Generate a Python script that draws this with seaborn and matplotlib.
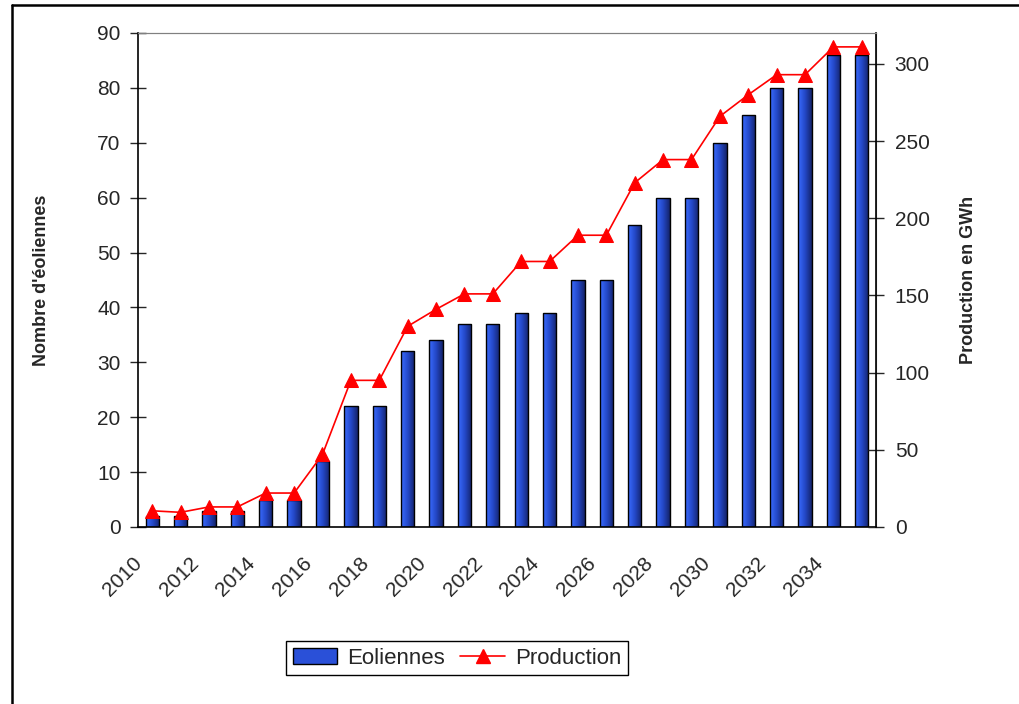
import numpy as np
import pandas as pd
import matplotlib
matplotlib.use("Agg")
import matplotlib.pyplot as plt
import matplotlib.transforms as mtransforms
from matplotlib.colors import LinearSegmentedColormap
from matplotlib.lines import Line2D
from matplotlib.patches import Patch
import seaborn as sns

# Data
years = [str(y) for y in range(2010, 2036)]
eoliennes = [2, 2, 3, 3, 5, 5, 12, 22, 22, 32, 34, 37, 37,
             39, 39, 45, 45, 55, 60, 60, 70, 75, 80, 80, 86, 86]
production = [10.5, 9.5, 13, 13, 22, 22, 47, 95, 95, 130, 141, 151, 151,
              172, 172, 189, 189, 223, 238, 238, 266, 280, 293, 293, 311, 311]

df = pd.DataFrame({"annee": years, "eoliennes": eoliennes, "production": production})

sns.set_style("white")
plt.rcParams["font.family"] = ["Liberation Sans", "DejaVu Sans"]

fig = plt.figure(figsize=(10.2, 7.04), dpi=100)
ax = fig.add_axes([138 / 1020, 1 - 527 / 704, (876 - 138) / 1020, (527 - 33) / 704])

# Bars (Eoliennes)
sns.barplot(data=df, x="annee", y="eoliennes", ax=ax, width=0.47,
            color="#2f5ae8", edgecolor="black", linewidth=1.0, saturation=1)

# gradient fill clipped to each bar
grad_cmap = LinearSegmentedColormap.from_list("bleu", ["#3a6cff", "#2448c8", "#14236a"])
gradient = np.linspace(0, 1, 64).reshape(1, -1)
for bar in ax.patches:
    x0, y0 = bar.get_x(), bar.get_y()
    w, h = bar.get_width(), bar.get_height()
    im = ax.imshow(gradient, extent=[x0, x0 + w, y0, y0 + h], aspect="auto",
                   cmap=grad_cmap, zorder=1.5, interpolation="bilinear")
    im.set_clip_path(bar)
    bar.set_facecolor("none")
    bar.set_zorder(2)

ax.set_xlim(-0.5, len(years) - 0.5)
ax.set_ylim(0, 90)
ax.set_yticks(range(0, 91, 10))
ax.set_xticks(range(0, len(years), 2))
ax.set_xticklabels(years[::2], rotation=45, ha="right", rotation_mode="anchor")
ax.set_xticks(np.arange(-0.5, len(years), 1), minor=True)
ax.tick_params(axis="x", which="major", length=0, pad=19, labelsize=15)
ax.tick_params(axis="x", which="minor", length=11, width=1, direction="inout", color="black")
ax.tick_params(axis="y", length=11, width=1, direction="inout", pad=7, labelsize=15, left=True)
# shift rotated year labels to the left, as in the original
shift = mtransforms.ScaledTranslation(-20 / 100, 0, fig.dpi_scale_trans)
for lab in ax.get_xticklabels():
    lab.set_transform(lab.get_transform() + shift)
ax.set_xlabel("")
ax.set_ylabel("Nombre d'éoliennes", fontsize=13, fontweight="bold", labelpad=34)
for side in ["left", "bottom"]:
    ax.spines[side].set_color("black")
    ax.spines[side].set_linewidth(1.2)
ax.spines["top"].set_color("#808080")
ax.spines["right"].set_color("#808080")

# Line (Production) on secondary axis
ax2 = ax.twinx()
sns.lineplot(x=np.arange(len(years)), y=production, ax=ax2, color="#ff0000",
             linewidth=1.2, marker="^", markersize=10, markeredgecolor="#ff0000")
ax2.set_ylim(0, 320)
ax2.set_yticks(range(0, 301, 50))
ax2.tick_params(axis="y", length=11, width=1, direction="inout", pad=8, labelsize=15, right=True)
ax2.set_ylabel("Production en GWh", fontsize=13, fontweight="bold", labelpad=22)
ax2.spines["right"].set_color("black")
ax2.spines["right"].set_linewidth(1.2)
ax2.spines["top"].set_color("#808080")
ax2.spines["left"].set_visible(False)
ax2.spines["bottom"].set_visible(False)

# Legend
handles = [Patch(facecolor="#2a50d8", edgecolor="black", linewidth=1.0),
           Line2D([], [], color="#ff0000", linewidth=1.2, marker="^", markersize=10)]
leg = fig.legend(handles, ["Eoliennes", "Production"], loc="center",
                 bbox_to_anchor=(457 / 1020, 1 - 658 / 704), ncol=2, fontsize=16,
                 frameon=True, fancybox=False, edgecolor="black", framealpha=1,
                 handlelength=2.0, handletextpad=0.45, columnspacing=0.7,
                 borderpad=0.3, borderaxespad=0)
leg.get_frame().set_linewidth(1.0)

# outer chart border (top and left edges visible)
fig.add_artist(Line2D([12 / 1020, 1], [1 - 5 / 704, 1 - 5 / 704], color="black", linewidth=1.8))
fig.add_artist(Line2D([12 / 1020, 12 / 1020], [0, 1 - 5 / 704], color="black", linewidth=1.8))

plt.savefig("out.png", dpi=100)
